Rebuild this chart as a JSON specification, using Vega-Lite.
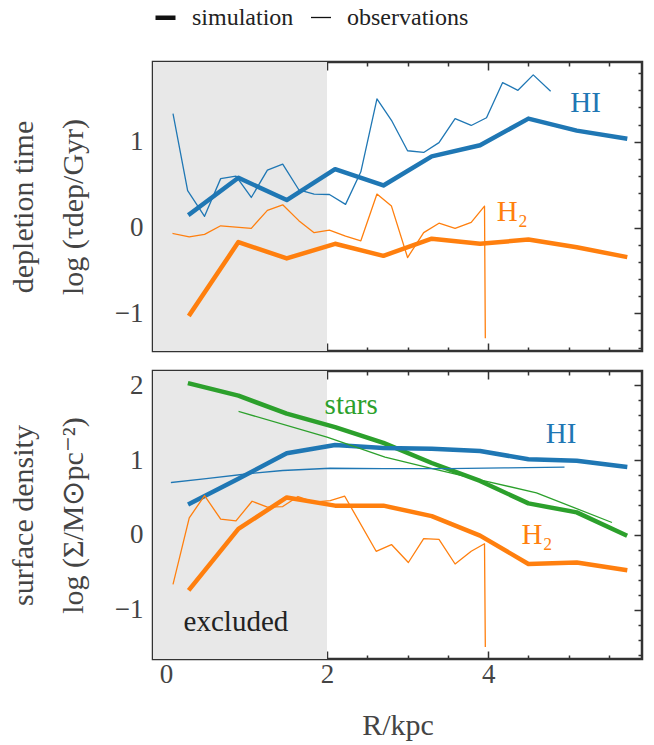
{
  "$schema": "https://vega.github.io/schema/vega-lite/v6.json",
  "padding": {"left": 7, "top": 5, "right": 5, "bottom": 2},
  "background": "white",
  "config": {
    "font": "Liberation Serif",
    "view": {"stroke": "#333333", "strokeWidth": 2.5},
    "axis": {"domain": false, "grid": false, "tickColor": "#333333", "tickWidth": 1.5, "labelFont": "Liberation Serif", "labelFontSize": 27, "labelColor": "#444444", "titleFont": "Liberation Serif", "titleFontSize": 30, "titleColor": "#444444", "titleFontWeight": "normal"},
    "legend": {"labelFont": "Liberation Serif", "labelFontSize": 24, "labelColor": "#222222"}
  },
  "datasets": {
    "shade": [{"x0": -0.16, "x1": 2}],
    "labels": [
      {"p": "t", "s": "HI", "label": "HI", "R": 5.02, "v": 1.342},
      {"p": "t", "s": "H2", "label": "H₂", "R": 4.107, "v": 0.078},
      {"p": "b", "s": "stars", "label": "stars", "R": 1.97, "v": 1.618},
      {"p": "b", "s": "HI", "label": "HI", "R": 4.716, "v": 1.23},
      {"p": "b", "s": "H2", "label": "H₂", "R": 4.414, "v": -0.129},
      {"p": "b", "s": "excl", "label": "excluded", "R": 0.22, "v": -1.28}
    ],
    "lines": [
      {"p": "t", "s": "HI", "k": "simulation", "R": 0.3, "v": 0.16},
      {"p": "t", "s": "HI", "k": "simulation", "R": 0.9, "v": 0.58},
      {"p": "t", "s": "HI", "k": "simulation", "R": 1.5, "v": 0.32},
      {"p": "t", "s": "HI", "k": "simulation", "R": 2.1, "v": 0.68},
      {"p": "t", "s": "HI", "k": "simulation", "R": 2.7, "v": 0.49},
      {"p": "t", "s": "HI", "k": "simulation", "R": 3.3, "v": 0.83},
      {"p": "t", "s": "HI", "k": "simulation", "R": 3.9, "v": 0.96},
      {"p": "t", "s": "HI", "k": "simulation", "R": 4.5, "v": 1.27},
      {"p": "t", "s": "HI", "k": "simulation", "R": 5.1, "v": 1.13},
      {"p": "t", "s": "HI", "k": "simulation", "R": 5.7, "v": 1.04},
      {"p": "t", "s": "H2", "k": "simulation", "R": 0.3, "v": -1.01},
      {"p": "t", "s": "H2", "k": "simulation", "R": 0.9, "v": -0.17},
      {"p": "t", "s": "H2", "k": "simulation", "R": 1.5, "v": -0.36},
      {"p": "t", "s": "H2", "k": "simulation", "R": 2.1, "v": -0.19},
      {"p": "t", "s": "H2", "k": "simulation", "R": 2.7, "v": -0.33},
      {"p": "t", "s": "H2", "k": "simulation", "R": 3.3, "v": -0.13},
      {"p": "t", "s": "H2", "k": "simulation", "R": 3.9, "v": -0.19},
      {"p": "t", "s": "H2", "k": "simulation", "R": 4.5, "v": -0.14},
      {"p": "t", "s": "H2", "k": "simulation", "R": 5.1, "v": -0.23},
      {"p": "t", "s": "H2", "k": "simulation", "R": 5.7, "v": -0.34},
      {"p": "t", "s": "HI", "k": "observations", "R": 0.09, "v": 1.32},
      {"p": "t", "s": "HI", "k": "observations", "R": 0.27, "v": 0.43},
      {"p": "t", "s": "HI", "k": "observations", "R": 0.48, "v": 0.13},
      {"p": "t", "s": "HI", "k": "observations", "R": 0.68, "v": 0.57},
      {"p": "t", "s": "HI", "k": "observations", "R": 0.87, "v": 0.6},
      {"p": "t", "s": "HI", "k": "observations", "R": 1.06, "v": 0.35},
      {"p": "t", "s": "HI", "k": "observations", "R": 1.26, "v": 0.67},
      {"p": "t", "s": "HI", "k": "observations", "R": 1.45, "v": 0.74},
      {"p": "t", "s": "HI", "k": "observations", "R": 1.65, "v": 0.44},
      {"p": "t", "s": "HI", "k": "observations", "R": 1.84, "v": 0.39},
      {"p": "t", "s": "HI", "k": "observations", "R": 2.03, "v": 0.385},
      {"p": "t", "s": "HI", "k": "observations", "R": 2.23, "v": 0.27},
      {"p": "t", "s": "HI", "k": "observations", "R": 2.42, "v": 0.65},
      {"p": "t", "s": "HI", "k": "observations", "R": 2.62, "v": 1.5},
      {"p": "t", "s": "HI", "k": "observations", "R": 2.8, "v": 1.25},
      {"p": "t", "s": "HI", "k": "observations", "R": 3.0, "v": 0.895},
      {"p": "t", "s": "HI", "k": "observations", "R": 3.2, "v": 0.875},
      {"p": "t", "s": "HI", "k": "observations", "R": 3.39, "v": 0.99},
      {"p": "t", "s": "HI", "k": "observations", "R": 3.59, "v": 1.27},
      {"p": "t", "s": "HI", "k": "observations", "R": 3.79, "v": 1.19},
      {"p": "t", "s": "HI", "k": "observations", "R": 3.98, "v": 1.28},
      {"p": "t", "s": "HI", "k": "observations", "R": 4.18, "v": 1.69},
      {"p": "t", "s": "HI", "k": "observations", "R": 4.37, "v": 1.6},
      {"p": "t", "s": "HI", "k": "observations", "R": 4.56, "v": 1.78},
      {"p": "t", "s": "HI", "k": "observations", "R": 4.77, "v": 1.595},
      {"p": "t", "s": "H2", "k": "observations", "R": 0.09, "v": -0.07},
      {"p": "t", "s": "H2", "k": "observations", "R": 0.29, "v": -0.11},
      {"p": "t", "s": "H2", "k": "observations", "R": 0.48, "v": -0.08},
      {"p": "t", "s": "H2", "k": "observations", "R": 0.68, "v": 0.02},
      {"p": "t", "s": "H2", "k": "observations", "R": 0.87, "v": 0.005},
      {"p": "t", "s": "H2", "k": "observations", "R": 1.06, "v": -0.01},
      {"p": "t", "s": "H2", "k": "observations", "R": 1.26, "v": 0.2},
      {"p": "t", "s": "H2", "k": "observations", "R": 1.45, "v": 0.265},
      {"p": "t", "s": "H2", "k": "observations", "R": 1.65, "v": 0.08},
      {"p": "t", "s": "H2", "k": "observations", "R": 1.84, "v": -0.06},
      {"p": "t", "s": "H2", "k": "observations", "R": 2.03, "v": -0.03},
      {"p": "t", "s": "H2", "k": "observations", "R": 2.23, "v": -0.1},
      {"p": "t", "s": "H2", "k": "observations", "R": 2.42, "v": -0.155},
      {"p": "t", "s": "H2", "k": "observations", "R": 2.62, "v": 0.39},
      {"p": "t", "s": "H2", "k": "observations", "R": 2.8, "v": 0.25},
      {"p": "t", "s": "H2", "k": "observations", "R": 3.0, "v": -0.35},
      {"p": "t", "s": "H2", "k": "observations", "R": 3.2, "v": -0.06},
      {"p": "t", "s": "H2", "k": "observations", "R": 3.39, "v": 0.05},
      {"p": "t", "s": "H2", "k": "observations", "R": 3.59, "v": -0.01},
      {"p": "t", "s": "H2", "k": "observations", "R": 3.79, "v": 0.06},
      {"p": "t", "s": "H2", "k": "observations", "R": 3.955, "v": 0.25},
      {"p": "t", "s": "H2", "k": "observations", "R": 3.965, "v": -1.284},
      {"p": "b", "s": "stars", "k": "simulation", "R": 0.3, "v": 2.02},
      {"p": "b", "s": "stars", "k": "simulation", "R": 0.9, "v": 1.86},
      {"p": "b", "s": "stars", "k": "simulation", "R": 1.5, "v": 1.62},
      {"p": "b", "s": "stars", "k": "simulation", "R": 2.1, "v": 1.44},
      {"p": "b", "s": "stars", "k": "simulation", "R": 2.7, "v": 1.23},
      {"p": "b", "s": "stars", "k": "simulation", "R": 3.3, "v": 0.96},
      {"p": "b", "s": "stars", "k": "simulation", "R": 3.9, "v": 0.72},
      {"p": "b", "s": "stars", "k": "simulation", "R": 4.5, "v": 0.42},
      {"p": "b", "s": "stars", "k": "simulation", "R": 5.1, "v": 0.3},
      {"p": "b", "s": "stars", "k": "simulation", "R": 5.7, "v": 0.0},
      {"p": "b", "s": "HI", "k": "simulation", "R": 0.3, "v": 0.42},
      {"p": "b", "s": "HI", "k": "simulation", "R": 0.9, "v": 0.75},
      {"p": "b", "s": "HI", "k": "simulation", "R": 1.5, "v": 1.09},
      {"p": "b", "s": "HI", "k": "simulation", "R": 2.1, "v": 1.2},
      {"p": "b", "s": "HI", "k": "simulation", "R": 2.7, "v": 1.16},
      {"p": "b", "s": "HI", "k": "simulation", "R": 3.3, "v": 1.15},
      {"p": "b", "s": "HI", "k": "simulation", "R": 3.9, "v": 1.12},
      {"p": "b", "s": "HI", "k": "simulation", "R": 4.5, "v": 1.01},
      {"p": "b", "s": "HI", "k": "simulation", "R": 5.1, "v": 0.99},
      {"p": "b", "s": "HI", "k": "simulation", "R": 5.7, "v": 0.91},
      {"p": "b", "s": "H2", "k": "simulation", "R": 0.3, "v": -0.72},
      {"p": "b", "s": "H2", "k": "simulation", "R": 0.9, "v": 0.08},
      {"p": "b", "s": "H2", "k": "simulation", "R": 1.5, "v": 0.5},
      {"p": "b", "s": "H2", "k": "simulation", "R": 2.1, "v": 0.39},
      {"p": "b", "s": "H2", "k": "simulation", "R": 2.7, "v": 0.39},
      {"p": "b", "s": "H2", "k": "simulation", "R": 3.3, "v": 0.25},
      {"p": "b", "s": "H2", "k": "simulation", "R": 3.9, "v": -0.01},
      {"p": "b", "s": "H2", "k": "simulation", "R": 4.5, "v": -0.39},
      {"p": "b", "s": "H2", "k": "simulation", "R": 5.1, "v": -0.37},
      {"p": "b", "s": "H2", "k": "simulation", "R": 5.7, "v": -0.47},
      {"p": "b", "s": "stars", "k": "observations", "R": 0.91, "v": 1.648},
      {"p": "b", "s": "stars", "k": "observations", "R": 2.0, "v": 1.305},
      {"p": "b", "s": "stars", "k": "observations", "R": 2.72, "v": 1.04},
      {"p": "b", "s": "stars", "k": "observations", "R": 3.32, "v": 0.882},
      {"p": "b", "s": "stars", "k": "observations", "R": 3.94, "v": 0.726},
      {"p": "b", "s": "stars", "k": "observations", "R": 4.6, "v": 0.561},
      {"p": "b", "s": "stars", "k": "observations", "R": 5.53, "v": 0.168},
      {"p": "b", "s": "HI", "k": "observations", "R": 0.07, "v": 0.7},
      {"p": "b", "s": "HI", "k": "observations", "R": 0.5, "v": 0.75},
      {"p": "b", "s": "HI", "k": "observations", "R": 1.05, "v": 0.82},
      {"p": "b", "s": "HI", "k": "observations", "R": 1.45, "v": 0.86},
      {"p": "b", "s": "HI", "k": "observations", "R": 2.04, "v": 0.89},
      {"p": "b", "s": "HI", "k": "observations", "R": 2.7, "v": 0.885},
      {"p": "b", "s": "HI", "k": "observations", "R": 3.5, "v": 0.885},
      {"p": "b", "s": "HI", "k": "observations", "R": 4.2, "v": 0.895},
      {"p": "b", "s": "HI", "k": "observations", "R": 4.94, "v": 0.905},
      {"p": "b", "s": "H2", "k": "observations", "R": 0.09, "v": -0.655},
      {"p": "b", "s": "H2", "k": "observations", "R": 0.29, "v": 0.227},
      {"p": "b", "s": "H2", "k": "observations", "R": 0.48, "v": 0.525},
      {"p": "b", "s": "H2", "k": "observations", "R": 0.68, "v": 0.209},
      {"p": "b", "s": "H2", "k": "observations", "R": 0.87, "v": 0.187},
      {"p": "b", "s": "H2", "k": "observations", "R": 1.07, "v": 0.449},
      {"p": "b", "s": "H2", "k": "observations", "R": 1.26, "v": 0.369},
      {"p": "b", "s": "H2", "k": "observations", "R": 1.45, "v": 0.378},
      {"p": "b", "s": "H2", "k": "observations", "R": 1.64, "v": 0.512},
      {"p": "b", "s": "H2", "k": "observations", "R": 1.84, "v": 0.436},
      {"p": "b", "s": "H2", "k": "observations", "R": 2.04, "v": 0.458},
      {"p": "b", "s": "H2", "k": "observations", "R": 2.22, "v": 0.516},
      {"p": "b", "s": "H2", "k": "observations", "R": 2.61, "v": -0.22},
      {"p": "b", "s": "H2", "k": "observations", "R": 2.8, "v": -0.13},
      {"p": "b", "s": "H2", "k": "observations", "R": 3.01, "v": -0.37},
      {"p": "b", "s": "H2", "k": "observations", "R": 3.2, "v": -0.05},
      {"p": "b", "s": "H2", "k": "observations", "R": 3.39, "v": -0.06},
      {"p": "b", "s": "H2", "k": "observations", "R": 3.59, "v": -0.39},
      {"p": "b", "s": "H2", "k": "observations", "R": 3.79, "v": -0.22},
      {"p": "b", "s": "H2", "k": "observations", "R": 3.955, "v": -0.12},
      {"p": "b", "s": "H2", "k": "observations", "R": 3.965, "v": -1.49}
    ]
  },
  "spacing": 16,
  "resolve": {"scale": {"color": "shared", "strokeWidth": "shared"}},
  "vconcat": [
    {
      "width": 489, "height": 289,
      "resolve": {"axis": {"x": "independent", "y": "independent"}},
      "layer": [
        {
          "data": {"name": "shade"},
          "mark": {"type": "rect", "color": "#e8e8e8"},
          "encoding": {
            "x": {"field": "x0", "type": "quantitative", "scale": {"domain": [-0.16, 5.91], "nice": false, "zero": false}, "axis": null},
            "x2": {"field": "x1"}
          }
        },
        {
          "data": {"name": "lines"},
          "transform": [{"filter": "datum.p === 't'"}],
          "mark": {"type": "line", "strokeCap": "square", "strokeJoin": "round"},
          "encoding": {
            "x": {"field": "R", "type": "quantitative", "scale": {"domain": [-0.16, 5.91], "nice": false, "zero": false}, "axis": {"orient": "bottom", "values": [0, 2, 4], "tickSize": -8, "labels": false, "title": null}},
            "y": {"field": "v", "type": "quantitative", "scale": {"domain": [-1.44, 1.93], "nice": false, "zero": false}, "axis": {"orient": "left", "values": [-1, 0, 1], "tickSize": -8, "labelPadding": 18, "title": ["depletion time", "log (τdep/Gyr)"], "titleLineHeight": 50, "titlePadding": 26}},
            "color": {"field": "s", "type": "nominal", "scale": {"domain": ["HI", "H2", "stars", "excl"], "range": ["#1f77b4", "#ff7f0e", "#2ca02c", "#222222"]}, "legend": null},
            "strokeWidth": {"field": "k", "type": "nominal", "scale": {"domain": ["simulation", "observations"], "range": [4.5, 1.3]}, "legend": {"orient": "top", "direction": "horizontal", "title": null, "symbolType": "stroke", "symbolStrokeColor": "#111111", "symbolSize": 400, "offset": 30, "columnPadding": 14, "labelOffset": 14}}
          }
        },
        {
          "data": {"name": "labels"},
          "transform": [{"filter": "datum.p === 't'"}],
          "mark": {"type": "text", "align": "left", "baseline": "alphabetic", "fontSize": 29, "font": "Liberation Serif"},
          "encoding": {
            "x": {"field": "R", "type": "quantitative", "scale": {"domain": [-0.16, 5.91], "nice": false, "zero": false}, "axis": {"orient": "bottom", "values": [0.5, 1, 1.5, 2.5, 3, 3.5, 4.5, 5, 5.5], "tickSize": -4, "labels": false, "title": null}},
            "y": {"field": "v", "type": "quantitative", "scale": {"domain": [-1.44, 1.93], "nice": false, "zero": false}, "axis": {"orient": "left", "values": [-1.4, -1.2, -0.8, -0.6, -0.4, -0.2, 0.2, 0.4, 0.6, 0.8, 1.2, 1.4, 1.6, 1.8], "tickSize": -4, "labels": false, "title": null}},
            "text": {"field": "label"},
            "color": {"field": "s", "type": "nominal", "legend": null}
          }
        },
        {
          "data": {"values": []},
          "mark": {"type": "point", "opacity": 0},
          "encoding": {
            "x": {"field": "R", "type": "quantitative", "scale": {"domain": [-0.16, 5.91], "nice": false, "zero": false}, "axis": {"orient": "top", "values": [0, 2, 4], "tickSize": -8, "labels": false, "title": null}},
            "y": {"field": "v", "type": "quantitative", "scale": {"domain": [-1.44, 1.93], "nice": false, "zero": false}, "axis": {"orient": "right", "values": [-1, 0, 1], "tickSize": -8, "labels": false, "title": null}}
          }
        },
        {
          "data": {"values": []},
          "mark": {"type": "point", "opacity": 0},
          "encoding": {
            "x": {"field": "R", "type": "quantitative", "scale": {"domain": [-0.16, 5.91], "nice": false, "zero": false}, "axis": {"orient": "top", "values": [0.5, 1, 1.5, 2.5, 3, 3.5, 4.5, 5, 5.5], "tickSize": -4, "labels": false, "title": null}},
            "y": {"field": "v", "type": "quantitative", "scale": {"domain": [-1.44, 1.93], "nice": false, "zero": false}, "axis": {"orient": "right", "values": [-1.4, -1.2, -0.8, -0.6, -0.4, -0.2, 0.2, 0.4, 0.6, 0.8, 1.2, 1.4, 1.6, 1.8], "tickSize": -4, "labels": false, "title": null}}
          }
        }
      ]
    },
    {
      "width": 489, "height": 288,
      "resolve": {"axis": {"x": "independent", "y": "independent"}},
      "layer": [
        {
          "data": {"name": "shade"},
          "mark": {"type": "rect", "color": "#e8e8e8"},
          "encoding": {
            "x": {"field": "x0", "type": "quantitative", "scale": {"domain": [-0.16, 5.91], "nice": false, "zero": false}, "axis": null},
            "x2": {"field": "x1"}
          }
        },
        {
          "data": {"name": "lines"},
          "transform": [{"filter": "datum.p === 'b'"}],
          "mark": {"type": "line", "strokeCap": "square", "strokeJoin": "round"},
          "encoding": {
            "x": {"field": "R", "type": "quantitative", "scale": {"domain": [-0.16, 5.91], "nice": false, "zero": false}, "axis": {"orient": "bottom", "values": [0, 2, 4], "tickSize": -8, "labelPadding": 10, "title": "R/kpc", "titlePadding": 23}},
            "y": {"field": "v", "type": "quantitative", "scale": {"domain": [-1.66, 2.19], "nice": false, "zero": false}, "axis": {"orient": "left", "values": [-1, 0, 1, 2], "tickSize": -8, "labelPadding": 18, "title": ["surface density", "log (Σ/M⊙pc⁻²)"], "titleLineHeight": 50, "titlePadding": 26}},
            "color": {"field": "s", "type": "nominal", "legend": null},
            "strokeWidth": {"field": "k", "type": "nominal", "legend": {"orient": "top", "direction": "horizontal", "title": null, "symbolType": "stroke", "symbolStrokeColor": "#111111", "symbolSize": 400, "offset": 30, "columnPadding": 14, "labelOffset": 14}}
          }
        },
        {
          "data": {"name": "labels"},
          "transform": [{"filter": "datum.p === 'b'"}],
          "mark": {"type": "text", "align": "left", "baseline": "alphabetic", "fontSize": 29, "font": "Liberation Serif"},
          "encoding": {
            "x": {"field": "R", "type": "quantitative", "scale": {"domain": [-0.16, 5.91], "nice": false, "zero": false}, "axis": {"orient": "bottom", "values": [0.5, 1, 1.5, 2.5, 3, 3.5, 4.5, 5, 5.5], "tickSize": -4, "labels": false, "title": null}},
            "y": {"field": "v", "type": "quantitative", "scale": {"domain": [-1.66, 2.19], "nice": false, "zero": false}, "axis": {"orient": "left", "values": [-1.6, -1.4, -1.2, -0.8, -0.6, -0.4, -0.2, 0.2, 0.4, 0.6, 0.8, 1.2, 1.4, 1.6, 1.8], "tickSize": -4, "labels": false, "title": null}},
            "text": {"field": "label"},
            "color": {"field": "s", "type": "nominal", "legend": null}
          }
        },
        {
          "data": {"values": []},
          "mark": {"type": "point", "opacity": 0},
          "encoding": {
            "x": {"field": "R", "type": "quantitative", "scale": {"domain": [-0.16, 5.91], "nice": false, "zero": false}, "axis": {"orient": "top", "values": [0, 2, 4], "tickSize": -8, "labels": false, "title": null}},
            "y": {"field": "v", "type": "quantitative", "scale": {"domain": [-1.66, 2.19], "nice": false, "zero": false}, "axis": {"orient": "right", "values": [-1, 0, 1, 2], "tickSize": -8, "labels": false, "title": null}}
          }
        },
        {
          "data": {"values": []},
          "mark": {"type": "point", "opacity": 0},
          "encoding": {
            "x": {"field": "R", "type": "quantitative", "scale": {"domain": [-0.16, 5.91], "nice": false, "zero": false}, "axis": {"orient": "top", "values": [0.5, 1, 1.5, 2.5, 3, 3.5, 4.5, 5, 5.5], "tickSize": -4, "labels": false, "title": null}},
            "y": {"field": "v", "type": "quantitative", "scale": {"domain": [-1.66, 2.19], "nice": false, "zero": false}, "axis": {"orient": "right", "values": [-1.6, -1.4, -1.2, -0.8, -0.6, -0.4, -0.2, 0.2, 0.4, 0.6, 0.8, 1.2, 1.4, 1.6, 1.8], "tickSize": -4, "labels": false, "title": null}}
          }
        }
      ]
    }
  ]
}
